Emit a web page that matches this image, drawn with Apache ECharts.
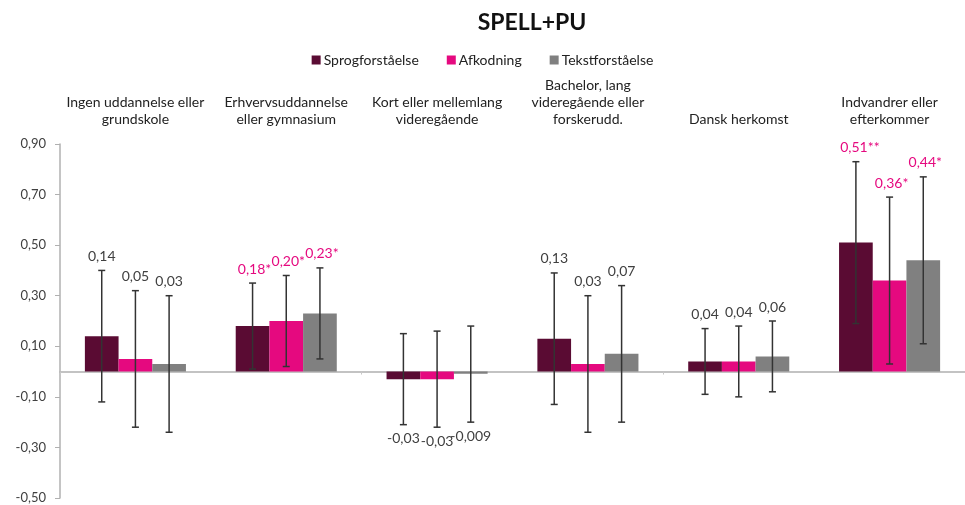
<!DOCTYPE html>
<html>
<head>
<meta charset="utf-8">
<script src="https://cdn.jsdelivr.net/npm/echarts@6/dist/echarts.min.js"></script>
<style>
html,body{margin:0;padding:0;background:#fff;}
#chart{width:965px;height:505px;}
</style>
</head>
<body>
<div id="chart"></div>
<script>
const categories = [
  'Ingen uddannelse eller\ngrundskole',
  'Erhvervsuddannelse\neller gymnasium',
  'Kort eller mellemlang\nvideregående',
  'Bachelor, lang\nvideregående eller\nforskerudd.',
  'Dansk herkomst',
  'Indvandrer eller\nefterkommer'
];
const seriesNames = ['Sprogforståelse', 'Afkodning', 'Tekstforståelse'];
const seriesColors = ['#5a0b33', '#e5097f', '#808080'];

const sprogValues = [0.14, 0.18, -0.03, 0.13, 0.04, 0.51];
const afkodValues = [0.05, 0.20, -0.03, 0.03, 0.04, 0.36];
const tekstValues = [0.03, 0.23, -0.009, 0.07, 0.06, 0.44];

const sprogLow  = [-0.12, 0.01, -0.21, -0.13, -0.09, 0.19];
const sprogHigh = [0.40, 0.35, 0.15, 0.39, 0.17, 0.83];
const afkodLow  = [-0.22, 0.02, -0.22, -0.24, -0.10, 0.03];
const afkodHigh = [0.32, 0.38, 0.16, 0.30, 0.18, 0.69];
const tekstLow  = [-0.24, 0.05, -0.20, -0.20, -0.08, 0.11];
const tekstHigh = [0.30, 0.41, 0.18, 0.34, 0.20, 0.77];

const sprogSig = ['', '*', '', '', '', '**'];
const afkodSig = ['', '*', '', '', '', '*'];
const tekstSig = ['', '*', '', '', '', '*'];

const yTicks = { min: -0.5, max: 0.9, interval: 0.2 };

const FONT = 'Lato, "Open Sans", sans-serif';
const allValues = [sprogValues, afkodValues, tekstValues];
const allLow = [sprogLow, afkodLow, tekstLow];
const allHigh = [sprogHigh, afkodHigh, tekstHigh];
const allSig = [sprogSig, afkodSig, tekstSig];
const CAT_GAP = 0.33;

function fmt(v) {
  const d = Math.abs(v) < 0.01 && v !== 0 ? 3 : 2;
  return v.toFixed(d).replace('.', ',');
}

const series = [];
allValues.forEach((vals, i) => {
  series.push({
    name: seriesNames[i],
    type: 'bar',
    data: vals,
    barGap: '0%',
    barCategoryGap: (CAT_GAP * 100) + '%',
    itemStyle: { color: seriesColors[i] },
    xAxisIndex: 0,
    yAxisIndex: 0
  });
});
allValues.forEach((vals, i) => {
  const data = vals.map((v, k) => [k, allLow[i][k], allHigh[i][k], v]);
  series.push({
    type: 'custom',
    name: seriesNames[i] + ' CI',
    xAxisIndex: 0,
    yAxisIndex: 0,
    z: 10,
    data: data,
    renderItem: function (params, api) {
      const ci = api.value(0);
      const lo = api.value(1), hi = api.value(2), v = api.value(3);
      const sig = allSig[i][ci];
      const band = api.size([1, 0])[0];
      const barW = band * (1 - CAT_GAP) / 3;
      const x = api.coord([ci, 0])[0] + (i - 1) * barW;
      const yT = api.coord([ci, hi])[1];
      const yB = api.coord([ci, lo])[1];
      const cap = 3.5;
      const st = { stroke: '#333333', lineWidth: 1.5 };
      const color = sig ? '#e5097f' : '#404040';
      const neg = v < 0;
      return {
        type: 'group',
        children: [
          { type: 'line', shape: { x1: x, y1: yT, x2: x, y2: yB }, style: st },
          { type: 'line', shape: { x1: x - cap, y1: yT, x2: x + cap, y2: yT }, style: st },
          { type: 'line', shape: { x1: x - cap, y1: yB, x2: x + cap, y2: yB }, style: st },
          {
            type: 'text',
            style: {
              text: fmt(v) + sig,
              x: x + (sig ? sig.length * 2 : 0),
              y: neg ? yB + 7 : yT - 7,
              align: 'center',
              verticalAlign: neg ? 'top' : 'bottom',
              fill: color,
              font: '14px ' + FONT
            }
          }
        ]
      };
    }
  });
});

const chart = echarts.init(document.getElementById('chart'));
chart.setOption({
  animation: false,
  textStyle: { fontFamily: FONT },
  title: {
    text: 'SPELL+PU',
    left: 527,
    textAlign: 'center',
    top: 6,
    textStyle: { fontSize: 23, fontWeight: 'bold', color: '#111', fontFamily: FONT }
  },
  legend: {
    data: seriesNames,
    top: 48,
    left: 'center',
    itemWidth: 9,
    itemHeight: 9,
    itemGap: 28,
    icon: 'rect',
    textStyle: { fontSize: 14, color: '#222', fontFamily: FONT, padding: [0, 0, 0, -2] }
  },
  grid: { left: 60, right: 0, top: 144, bottom: 7 },
  xAxis: [
    {
      type: 'category',
      data: categories,
      position: 'bottom',
      axisLine: { onZero: true, lineStyle: { color: '#b0b0b0', width: 1.5 } },
      axisTick: { show: true, length: 3, lineStyle: { color: '#c8c8c8' } },
      axisLabel: { show: false }
    },
    {
      type: 'category',
      data: categories,
      position: 'top',
      axisLine: { show: false },
      axisTick: { show: false },
      axisLabel: {
        interval: 0,
        margin: 16,
        fontSize: 14,
        lineHeight: 17,
        color: '#222',
        fontFamily: FONT
      }
    }
  ],
  yAxis: {
    type: 'value',
    min: yTicks.min,
    max: yTicks.max,
    interval: yTicks.interval,
    splitLine: { show: false },
    axisLine: { show: true, onZero: false, lineStyle: { color: '#b0b0b0', width: 1.5 } },
    axisTick: { show: true, length: 5, lineStyle: { color: '#b0b0b0' } },
    axisLabel: {
      margin: 14,
      fontSize: 13,
      color: '#404040',
      fontFamily: FONT,
      formatter: v => (Math.round(v * 100) / 100).toFixed(2).replace('.', ',')
    }
  },
  series: series
});
</script>
</body>
</html>
